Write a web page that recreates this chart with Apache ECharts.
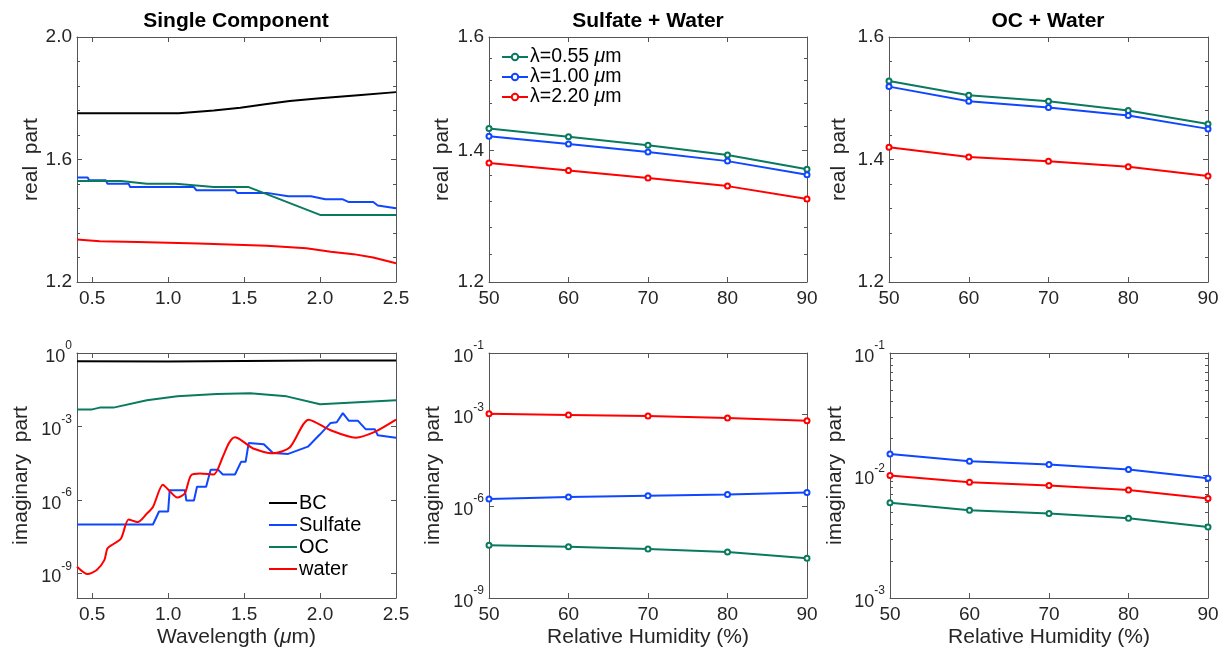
<!DOCTYPE html>
<html><head><meta charset="utf-8">
<script src="https://cdn.jsdelivr.net/npm/echarts@6/dist/echarts.min.js"></script>
<style>html,body{margin:0;padding:0;background:#fff}#c{width:1228px;height:651px}</style>
</head><body><div id="c"></div>
<script>
// ---------- DATA ----------
// Single component, real part (x = wavelength in µm)
const bcReWl   = [0.4, 1.07, 1.3, 1.475, 1.65, 1.8, 2.0, 2.25, 2.5];
const bcReN    = [1.751, 1.751, 1.760, 1.769, 1.781, 1.791, 1.800, 1.810, 1.820];
const sulfReWl = [0.4, 0.47, 0.48, 0.59, 0.60, 0.74, 0.75, 1.17, 1.185, 1.44, 1.455, 1.65, 1.79, 1.94, 2.035, 2.15, 2.19, 2.35, 2.38, 2.5];
const sulfReN  = [1.541, 1.541, 1.532, 1.532, 1.521, 1.521, 1.510, 1.510, 1.500, 1.500, 1.491, 1.491, 1.480, 1.480, 1.470, 1.470, 1.461, 1.461, 1.450, 1.441];
const ocReWl   = [0.4, 0.69, 0.86, 1.05, 1.30, 1.53, 2.0, 2.5];
const ocReN    = [1.530, 1.530, 1.521, 1.521, 1.510, 1.510, 1.419, 1.419];
const waterReWl= [0.4, 0.55, 0.8, 1.2, 1.65, 1.91, 2.07, 2.22, 2.35, 2.5];
const waterReN = [1.339, 1.333, 1.331, 1.326, 1.318, 1.310, 1.299, 1.291, 1.280, 1.261];
// Single component, imaginary part
const bcImWl   = [0.4, 1.0, 1.5, 2.0, 2.5];
const bcImK    = [0.46, 0.45, 0.47, 0.49, 0.50];
const sulfImWl = [0.4, 0.90, 0.94, 1.00, 1.01, 1.11, 1.12, 1.17, 1.19, 1.25, 1.28, 1.33, 1.36, 1.44, 1.48, 1.51, 1.53, 1.63, 1.69, 1.79, 1.92, 2.0, 2.07, 2.11, 2.15, 2.19, 2.25, 2.30, 2.36, 2.38, 2.5];
const sulfImK  = [1e-7, 1e-7, 3.4e-7, 3.4e-7, 2.5e-6, 2.5e-6, 9.5e-7, 9.5e-7, 3.5e-6, 3.5e-6, 1.7e-5, 1.7e-5, 1.1e-5, 1.1e-5, 3.6e-5, 3.6e-5, 2.1e-4, 1.9e-4, 8.3e-5, 7.6e-5, 1.5e-4, 4.8e-4, 1.4e-3, 1.5e-3, 3.5e-3, 1.7e-3, 1.7e-3, 7.8e-4, 7.8e-4, 4.4e-4, 3.5e-4];
const ocImWl   = [0.4, 0.5, 0.55, 0.64, 0.86, 1.06, 1.32, 1.54, 1.78, 2.0, 2.5];
const ocImK    = [5.0e-3, 5.0e-3, 5.9e-3, 5.9e-3, 1.17e-2, 1.7e-2, 2.1e-2, 2.3e-2, 1.7e-2, 8.1e-3, 1.17e-2];
const waterImWl= [0.4, 0.47, 0.53, 0.58, 0.60, 0.64, 0.69, 0.74, 0.80, 0.86, 0.90, 0.965, 1.0, 1.06, 1.11, 1.15, 1.21, 1.30, 1.36, 1.40, 1.44, 1.48, 1.56, 1.69, 1.80, 1.925, 2.07, 2.235, 2.36, 2.5];
const waterImK = [1.9e-9, 9.5e-10, 1.4e-9, 3.5e-9, 1.05e-8, 1.6e-8, 2.7e-8, 1.6e-7, 1.26e-7, 2.8e-7, 5.2e-7, 4.2e-6, 2.7e-6, 1.26e-6, 1.9e-6, 1.0e-5, 1.2e-5, 1.1e-5, 5.8e-5, 2.1e-4, 3.6e-4, 2.8e-4, 1.26e-4, 8e-5, 1.4e-4, 1.9e-3, 7e-4, 3.5e-4, 6e-4, 1.9e-3];
// Mixtures vs relative humidity
const rh = [50, 60, 70, 80, 90];
const swRe055 = [1.437, 1.423, 1.409, 1.393, 1.370];
const swRe100 = [1.424, 1.411, 1.398, 1.383, 1.361];
const swRe220 = [1.380, 1.368, 1.356, 1.343, 1.323];
const ocRe055 = [1.528, 1.505, 1.495, 1.480, 1.458];
const ocRe100 = [1.519, 1.495, 1.485, 1.472, 1.450];
const ocRe220 = [1.420, 1.404, 1.397, 1.388, 1.373];
const swIm055 = [5.3e-8, 4.7e-8, 4.0e-8, 3.2e-8, 2.0e-8];
const swIm100 = [1.7e-6, 2.0e-6, 2.2e-6, 2.4e-6, 2.8e-6];
const swIm220 = [1.03e-3, 9.5e-4, 8.7e-4, 7.6e-4, 6.1e-4];
const ocIm055 = [0.0060, 0.0052, 0.0049, 0.00448, 0.0038];
const ocIm100 = [0.0150, 0.0131, 0.0123, 0.0112, 0.0095];
const ocIm220 = [0.0100, 0.0088, 0.0083, 0.0076, 0.0065];
// Names, titles and tick values
const titles = ['Single Component', 'Sulfate + Water', 'OC + Water'];
const compNames = ['BC', 'Sulfate', 'OC', 'water'];
const lamNames = ['λ=0.55 μm', 'λ=1.00 μm', 'λ=2.20 μm'];
const wlTicks = [0.5, 1.0, 1.5, 2.0, 2.5];
const rhTicks = [50, 60, 70, 80, 90];
const tmTicks = [1.2, 1.4, 1.6];
const tmMinor = [1.24, 1.28, 1.32, 1.36, 1.44, 1.48, 1.52, 1.56];
const blTicks = [1e-9, 1e-6, 1e-3, 1];
const bmTicks = [1e-9, 1e-6, 1e-3, 1e-1];
const brTicks = [1e-3, 1e-2, 1e-1];
const brMinor = [2e-3, 3e-3, 4e-3, 5e-3, 6e-3, 7e-3, 8e-3, 9e-3, 2e-2, 3e-2, 4e-2, 5e-2, 6e-2, 7e-2, 8e-2, 9e-2];

// ---------- STYLE ----------
const AX = '#555555', TXT = '#262626';
const FONT = '"Liberation Sans", Arial, Helvetica, sans-serif';
const C = {BC: '#000000', Sulfate: '#0f46ff', OC: '#0a7a5e', water: '#ff0000'};
const LC = ['#0a7a5e', '#0f46ff', '#ff0000'];
const TICKFS = 19, NAMEFS = 21;

const zip = (a, b) => a.map((v, i) => [v, b[i]]);
const supFmt = v => '{b|10}{s|' + Math.round(Math.log10(v)) + '}';
const supRich = {
  b: {fontSize: 18, color: TXT, fontFamily: FONT, lineHeight: 26, verticalAlign: 'bottom'},
  s: {fontSize: 12, color: TXT, fontFamily: FONT, lineHeight: 26, verticalAlign: 'top'}
};

const grids = [
  {left: 77, top: 37, width: 319, height: 245},
  {left: 489, top: 37, width: 318, height: 245},
  {left: 889, top: 37, width: 319, height: 245},
  {left: 77, top: 353, width: 319, height: 245},
  {left: 489, top: 353, width: 318, height: 245},
  {left: 890, top: 353, width: 318, height: 245}
].map(g => Object.assign({show: false, containLabel: false}, g));

const xAxis = [], yAxis = [];
function mk(dir, g, o, role) {
  const isMinor = role.indexOf('minor') === 0;
  const near = (role === 'main' || role === 'minor');
  const pos = dir === 'x' ? (near ? 'bottom' : 'top') : (near ? 'left' : 'right');
  const a = {
    type: o.type || 'value', gridIndex: g, position: pos, min: o.min, max: o.max,
    axisLine: {show: !isMinor, onZero: false, lineStyle: {color: AX, width: 1}},
    axisTick: {show: true, inside: true, length: isMinor ? 3 : 5, lineStyle: {color: AX, width: 1}},
    axisLabel: {show: role === 'main', color: TXT, fontSize: TICKFS, fontFamily: FONT, margin: dir === 'x' ? 7 : 5},
    splitLine: {show: false}, minorSplitLine: {show: false}
  };
  if (o.type === 'log') a.logBase = 10;
  if (o.interval != null) a.interval = o.interval;
  const tv = isMinor ? o.minorValues : o.values;
  if (tv) a.axisTick.customValues = tv;
  if (role === 'main') {
    if (o.values) a.axisLabel.customValues = o.values;
    if (o.fmt) a.axisLabel.formatter = o.fmt;
    if (o.rich) a.axisLabel.rich = o.rich;
    if (o.name) {
      a.name = o.name; a.nameLocation = 'middle'; a.nameGap = o.nameGap;
      a.nameTextStyle = {fontSize: NAMEFS, color: TXT, fontFamily: FONT,
        rich: {i: {fontStyle: 'italic', fontSize: NAMEFS, color: TXT, fontFamily: FONT}}};
    }
  }
  if (o.minorSplit && !isMinor) a.minorTick = {show: true, splitNumber: o.minorSplit, length: 3, lineStyle: {color: AX}};
  return a;
}
function addAxes(dir, g, o) {
  const arr = dir === 'x' ? xAxis : yAxis;
  const idx = arr.length;
  arr.push(mk(dir, g, o, 'main'));
  arr.push(mk(dir, g, o, 'mirror'));
  if (o.minorValues) { arr.push(mk(dir, g, o, 'minor')); arr.push(mk(dir, g, o, 'minorMirror')); }
  return idx;
}
const f1 = v => v.toFixed(1);
const f0 = v => String(Math.round(v));
const wlName = 'Wavelength ({i|μ}m)';
const rhName = 'Relative Humidity (%)';

const ax = [];
// grid 0: TL
ax.push([addAxes('x', 0, {min: 0.4, max: 2.5, values: wlTicks, fmt: f1}),
         addAxes('y', 0, {min: 1.2, max: 2.0, interval: 0.4, fmt: f1, minorSplit: 5, name: 'real  part', nameGap: 34})]);
// grid 1: TM (log real)
ax.push([addAxes('x', 1, {min: 50, max: 90, values: rhTicks, fmt: f0}),
         addAxes('y', 1, {type: 'log', min: 1.2, max: 1.6, values: tmTicks, minorValues: tmMinor, fmt: f1, name: 'real  part', nameGap: 36})]);
// grid 2: TR
ax.push([addAxes('x', 2, {min: 50, max: 90, values: rhTicks, fmt: f0}),
         addAxes('y', 2, {min: 1.2, max: 1.6, interval: 0.2, fmt: f1, minorSplit: 5, name: 'real  part', nameGap: 39})]);
// grid 3: BL
ax.push([addAxes('x', 3, {min: 0.4, max: 2.5, values: wlTicks, fmt: f1, name: wlName, nameGap: 29}),
         addAxes('y', 3, {type: 'log', min: 1e-10, max: 1, values: blTicks, fmt: supFmt, rich: supRich, name: 'imaginary  part', nameGap: 45})]);
// grid 4: BM
ax.push([addAxes('x', 4, {min: 50, max: 90, values: rhTicks, fmt: f0, name: rhName, nameGap: 29}),
         addAxes('y', 4, {type: 'log', min: 1e-9, max: 1e-1, values: bmTicks, fmt: supFmt, rich: supRich, name: 'imaginary  part', nameGap: 45})]);
// grid 5: BR
ax.push([addAxes('x', 5, {min: 50, max: 90, values: rhTicks, fmt: f0, name: rhName, nameGap: 29}),
         addAxes('y', 5, {type: 'log', min: 1e-3, max: 1e-1, values: brTicks, minorValues: brMinor, fmt: supFmt, rich: supRich, name: 'imaginary  part', nameGap: 44})]);

const series = [];
function comp(g, name, xs, ys, smooth) {
  series.push({type: 'line', name, xAxisIndex: ax[g][0], yAxisIndex: ax[g][1], data: zip(xs, ys),
    symbol: 'none', showSymbol: false, smooth: smooth || false, lineStyle: {color: C[name], width: 2},
    itemStyle: {color: C[name]}, emphasis: {disabled: true}});
}
comp(0, 'BC', bcReWl, bcReN);
comp(0, 'Sulfate', sulfReWl, sulfReN);
comp(0, 'OC', ocReWl, ocReN);
comp(0, 'water', waterReWl, waterReN);
comp(3, 'BC', bcImWl, bcImK);
comp(3, 'Sulfate', sulfImWl, sulfImK);
comp(3, 'OC', ocImWl, ocImK);
comp(3, 'water', waterImWl, waterImK, 0.25);

function mix(g, arrs) {
  arrs.forEach((ys, i) => series.push({type: 'line', name: lamNames[i], xAxisIndex: ax[g][0], yAxisIndex: ax[g][1],
    data: zip(rh, ys), symbol: 'emptyCircle', symbolSize: 5, showSymbol: true,
    lineStyle: {color: LC[i], width: 2}, itemStyle: {color: LC[i], borderColor: LC[i], borderWidth: 2},
    emphasis: {disabled: true}}));
}
mix(1, [swRe055, swRe100, swRe220]);
mix(2, [ocRe055, ocRe100, ocRe220]);
mix(4, [swIm055, swIm100, swIm220]);
mix(5, [ocIm055, ocIm100, ocIm220]);

const titleCenters = [231, 643, 1043];
const option = {
  animation: false,
  backgroundColor: '#ffffff',
  title: titles.map((t, i) => ({text: t, left: titleCenters[i], top: 6, textAlign: 'center',
    textStyle: {fontSize: 21, fontWeight: 'bold', color: '#000', fontFamily: FONT}})),
  grid: grids, xAxis, yAxis, series,
  legend: [
    {data: compNames.map(n => ({name: n, icon: 'rect'})), orient: 'vertical', left: 269, top: 493,
     itemWidth: 28, itemHeight: 2, itemGap: 2, padding: 0,
     textStyle: {fontSize: 20, color: '#000', fontFamily: FONT, padding: [0, 0, 0, -3]}, selectedMode: false},
    {data: lamNames, orient: 'vertical', left: 501, top: 47, itemWidth: 26, itemHeight: 8, itemGap: 0, padding: 0,
     formatter: n => n.replace('μ', '{i|μ}'),
     textStyle: {fontSize: 19.5, color: '#000', fontFamily: FONT, padding: [0, 0, 0, -3],
       rich: {i: {fontStyle: 'italic', fontSize: 19.5, color: '#000', fontFamily: FONT}}}, selectedMode: false}
  ]
};
const chart = echarts.init(document.getElementById('c'), null, {renderer: 'canvas'});
chart.setOption(option);
</script></body></html>
